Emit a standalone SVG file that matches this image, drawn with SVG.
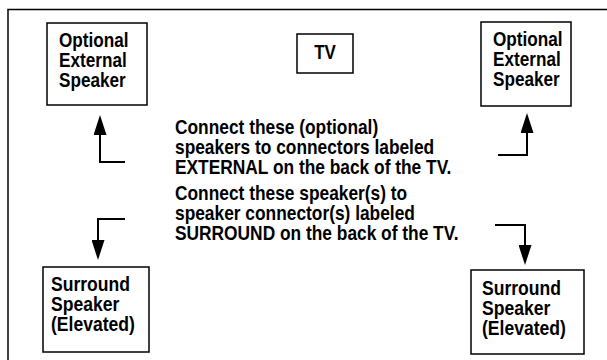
<svg xmlns="http://www.w3.org/2000/svg" width="607" height="360" viewBox="0 0 607 360">
<defs>
<marker id="ah" viewBox="0 0 20 13" refX="16" refY="6.5" markerWidth="20" markerHeight="13" markerUnits="userSpaceOnUse" orient="auto">
<path d="M0,0 L20,6.5 L0,13 z" fill="#000"/>
</marker>
</defs>
<style>
.frame{fill:none;stroke:#000;stroke-width:1.5}
.box{fill:#fff;stroke:#000;stroke-width:1.5}
.t{font-family:"Liberation Sans",Arial,sans-serif;font-weight:bold;font-size:19.5px;fill:#000}
.conn{fill:none;stroke:#000;stroke-width:2}
</style>
<rect width="607" height="360" fill="#fff"/>
<rect class="frame" x="8" y="9.5" width="620" height="380"/>

<g id="ext-left">
<rect class="box" x="47" y="23" width="100" height="82"/>
<text class="t" transform="translate(59 0) scale(0.88 1)"><tspan x="0" y="47">Optional</tspan><tspan x="0" y="67">External</tspan><tspan x="0" y="87">Speaker</tspan></text>
</g>
<g id="tv">
<rect class="box" x="297" y="34" width="56" height="39"/>
<text class="t" transform="translate(325 0) scale(0.87 1)" x="0" y="59" text-anchor="middle" font-size="21">TV</text>
</g>
<g id="ext-right">
<rect class="box" x="481" y="22" width="90" height="84"/>
<text class="t" transform="translate(493 0) scale(0.88 1)"><tspan x="0" y="46">Optional</tspan><tspan x="0" y="66">External</tspan><tspan x="0" y="86">Speaker</tspan></text>
</g>
<g id="sur-left">
<rect class="box" x="43" y="267" width="106" height="85"/>
<text class="t" transform="translate(51 0) scale(0.9 1)"><tspan x="0" y="291">Surround</tspan><tspan x="0" y="311">Speaker</tspan><tspan x="0" y="331">(Elevated)</tspan></text>
</g>
<g id="sur-right">
<rect class="box" x="471" y="270" width="113" height="84"/>
<text class="t" transform="translate(482 0) scale(0.9 1)"><tspan x="0" y="295">Surround</tspan><tspan x="0" y="315">Speaker</tspan><tspan x="0" y="335">(Elevated)</tspan></text>
</g>
<g id="note-external">
<text class="t" transform="translate(175 0) scale(0.89 1)"><tspan x="0" y="134">Connect these (optional)</tspan><tspan x="0" y="154">speakers to connectors labeled</tspan><tspan x="0" y="174">EXTERNAL on the back of the TV.</tspan></text>
</g>
<g id="note-surround">
<text class="t" transform="translate(175 0) scale(0.89 1)"><tspan x="0" y="200">Connect these speaker(s) to</tspan><tspan x="0" y="220">speaker connector(s) labeled</tspan><tspan x="0" y="240">SURROUND on the back of the TV.</tspan></text>
</g>
<g id="connectors">
<path class="conn" d="M125,162 H100 V119" marker-end="url(#ah)"/>
<path class="conn" d="M498,155 H527 V117" marker-end="url(#ah)"/>
<path class="conn" d="M125,219 H98 V256" marker-end="url(#ah)"/>
<path class="conn" d="M495,225 H525 V261" marker-end="url(#ah)"/>
</g>
</svg>
